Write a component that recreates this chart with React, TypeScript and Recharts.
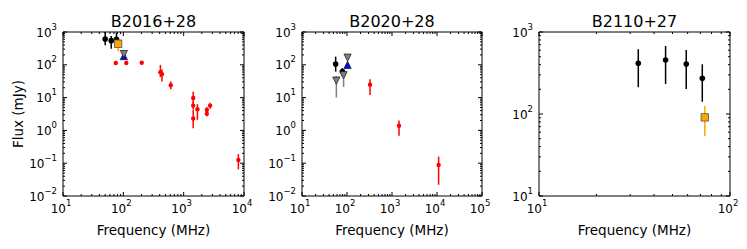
import React from "react";
import { ScatterChart, Scatter, XAxis, YAxis, ErrorBar, ReferenceArea } from "recharts";

const FONT = "'DejaVu Sans', sans-serif";

// rows: [frequency MHz, flux mJy, lower bound, upper bound]
const B2016_BLACK = [
  [50, 610, 394, 1000],
  [63, 545, 310, 755],
  [77, 600, 472, 950],
];
const B2016_ORANGE = [[82, 440, 258, 520]];
const B2016_BLUE = [[102, 184]];
const B2016_GRAY = [[102, 212]];
const B2016_RED = [
  [75, 114],
  [112, 114],
  [202, 116],
  [411, 59, 42, 99],
  [437, 52, 31, 72],
  [611, 24, 18, 31],
  [1440, 9.7, 6.5, 15],
  [1440, 5.7, 4.3, 7.5],
  [1440, 2.3, 1.16, 4.2],
  [1690, 4.4, 2.1, 6.3],
  [2420, 4.2, 3.5, 5.2],
  [2420, 3.2, 2.7, 3.8],
  [2740, 5.7, 4.6, 7.0],
  [8070, 0.125, 0.065, 0.19],
];

const B2020_BLACK = [
  [56, 106, 62, 177],
  [79, 62, 44, 80],
];
const B2020_GRAY = [
  [58, 33, 10, 45],
  [84, 48, 21, 60],
  [103, 165],
];
const B2020_BLUE = [[103, 99]];
const B2020_RED = [
  [325, 24.7, 12, 36],
  [1430, 1.39, 0.69, 2.0],
  [10860, 0.088, 0.022, 0.158],
];

const B2110_BLACK = [
  [33.1, 415, 212, 617],
  [46, 456, 232, 676],
  [59, 407, 202, 604],
  [71.6, 272, 141, 404],
];
const B2110_ORANGE = [[73.8, 91, 54, 125]];

const P1_X = [10, 100, 1000, 10000];
const P1_Y = [0.01, 0.1, 1, 10, 100, 1000];
const P2_X = [10, 100, 1000, 10000, 100000];
const P2_Y = [0.01, 0.1, 1, 10, 100, 1000];
const P3_X = [10, 100];
const P3_Y = [10, 100, 1000];

const PLOT_TOP = 32;
const PLOT_H = 164;
const CHART_H = 249;

function toPoints(rows: number[][]) {
  return rows.map(([f, s, lo, hi]) => ({
    f,
    s,
    err: [lo == null ? 0 : s - lo, hi == null ? 0 : hi - s],
  }));
}

function withMinors(decades: number[]) {
  const out: number[] = [];
  for (let i = 0; i < decades.length - 1; i++) {
    for (let k = 1; k <= 9; k++) out.push(+(k * decades[i]).toPrecision(6));
  }
  out.push(decades[decades.length - 1]);
  return out;
}

function isMajor(v: number) {
  const l = Math.log10(v);
  return Math.abs(l - Math.round(l)) < 1e-6;
}

function expLabel(v: number) {
  const e = Math.round(Math.log10(v));
  return e < 0 ? `\u2212${-e}` : `${e}`;
}

function makeXTick(plotH: number) {
  return (props: any) => {
    const { x, y, payload } = props;
    const v = payload.value;
    const major = isMajor(v);
    const len = major ? 4 : 2;
    return (
      <g>
        <line x1={x} x2={x} y1={y} y2={y - len} stroke="#000" strokeWidth={1} />
        <line x1={x} x2={x} y1={y - plotH} y2={y - plotH + len} stroke="#000" strokeWidth={1} />
        {major && (
          <text x={x - 2} y={y + 17} textAnchor="middle" fontSize={12} fontFamily={FONT} fill="#000">
            10
            <tspan fontSize={8.5} dy={-7}>
              {expLabel(v)}
            </tspan>
          </text>
        )}
      </g>
    );
  };
}

function makeYTick(plotW: number) {
  return (props: any) => {
    const { x, y, payload } = props;
    const v = payload.value;
    const major = isMajor(v);
    const len = major ? 4 : 2;
    return (
      <g>
        <line x1={x} x2={x + len} y1={y} y2={y} stroke="#000" strokeWidth={1} />
        <line x1={x + plotW} x2={x + plotW - len} y1={y} y2={y} stroke="#000" strokeWidth={1} />
        {major && (
          <text x={x - 6} y={y + 4.5} textAnchor="end" fontSize={12} fontFamily={FONT} fill="#000">
            10
            <tspan fontSize={8.5} dy={-7}>
              {expLabel(v)}
            </tspan>
          </text>
        )}
      </g>
    );
  };
}

type Kind = "dot" | "small" | "square" | "down" | "up";

function marker(kind: Kind, fill: string) {
  return (p: any) => {
    const { cx, cy } = p;
    if (cx == null || cy == null) return <g />;
    if (kind === "dot") return <circle cx={cx} cy={cy} r={2.8} fill={fill} />;
    if (kind === "small") return <circle cx={cx} cy={cy} r={2.2} fill={fill} />;
    if (kind === "square")
      return <rect x={cx - 3.7} y={cy - 3.7} width={7.4} height={7.4} fill={fill} stroke="#555" strokeWidth={0.8} />;
    const h = 3.6;
    const pts =
      kind === "down"
        ? `${cx - h},${cy - h} ${cx + h},${cy - h} ${cx},${cy + h}`
        : `${cx - h},${cy + h} ${cx + h},${cy + h} ${cx},${cy - h}`;
    return <polygon points={pts} fill={fill} stroke="#222" strokeWidth={0.8} />;
  };
}

interface SeriesDef {
  rows: number[][];
  kind: Kind;
  color: string;
  errColor: string;
}

interface PanelProps {
  left: number;
  width: number;
  plotLeft: number;
  plotRight: number;
  yAxisWidth: number;
  xDecades: number[];
  yDecades: number[];
  series: SeriesDef[];
}

function Panel({ left, width, plotLeft, plotRight, yAxisWidth, xDecades, yDecades, series }: PanelProps) {
  const plotW = plotRight - plotLeft;
  const xDom = [xDecades[0], xDecades[xDecades.length - 1]];
  const yDom = [yDecades[0], yDecades[yDecades.length - 1]];
  return (
    <div style={{ position: "absolute", left, top: 0 }}>
      <ScatterChart
        width={width}
        height={CHART_H}
        margin={{ top: PLOT_TOP, left: plotLeft - yAxisWidth, right: width - plotRight, bottom: CHART_H - PLOT_TOP - PLOT_H - 30 }}
      >
        <XAxis
          type="number"
          dataKey="f"
          scale="log"
          domain={xDom}
          allowDataOverflow
          ticks={withMinors(xDecades)}
          interval={0}
          tickSize={0}
          tickMargin={0}
          tickLine={false}
          axisLine={false}
          height={30}
          tick={makeXTick(PLOT_H)}
        />
        <YAxis
          type="number"
          dataKey="s"
          scale="log"
          domain={yDom}
          allowDataOverflow
          ticks={withMinors(yDecades)}
          interval={0}
          tickSize={0}
          tickMargin={0}
          tickLine={false}
          axisLine={false}
          width={yAxisWidth}
          tick={makeYTick(plotW)}
        />
        <ReferenceArea
          x1={xDom[0]}
          x2={xDom[1]}
          y1={yDom[0]}
          y2={yDom[1]}
          fill="none"
          fillOpacity={0}
          stroke="#000"
          strokeWidth={1}
          ifOverflow="visible"
        />
        {series.map((s, i) => (
          <Scatter key={i} data={toPoints(s.rows)} shape={marker(s.kind, s.color)} isAnimationActive={false}>
            <ErrorBar dataKey="err" direction="y" width={0} stroke={s.errColor} strokeWidth={1.5} />
          </Scatter>
        ))}
      </ScatterChart>
    </div>
  );
}

const TITLES = ["B2016+28", "B2020+28", "B2110+27"];
const X_LABEL = "Frequency (MHz)";
const Y_LABEL = "Flux (mJy)";

export default function App() {
  const panels: PanelProps[] = [
    {
      left: 0,
      width: 262,
      plotLeft: 63,
      plotRight: 244,
      yAxisWidth: 50,
      xDecades: P1_X,
      yDecades: P1_Y,
      series: [
        { rows: B2016_RED, kind: "small", color: "#ff0000", errColor: "#ff0000" },
        { rows: B2016_BLACK, kind: "dot", color: "#000", errColor: "#000" },
        { rows: B2016_ORANGE, kind: "square", color: "#ffa500", errColor: "#ffa500" },
        { rows: B2016_BLUE, kind: "up", color: "#0000ff", errColor: "#0000ff" },
        { rows: B2016_GRAY, kind: "down", color: "#808080", errColor: "#808080" },
      ],
    },
    {
      left: 250,
      width: 250,
      plotLeft: 52,
      plotRight: 232,
      yAxisWidth: 40,
      xDecades: P2_X,
      yDecades: P2_Y,
      series: [
        { rows: B2020_RED, kind: "small", color: "#ff0000", errColor: "#ff0000" },
        { rows: B2020_BLACK, kind: "dot", color: "#000", errColor: "#000" },
        { rows: B2020_BLUE, kind: "up", color: "#0000ff", errColor: "#0000ff" },
        { rows: B2020_GRAY, kind: "down", color: "#808080", errColor: "#808080" },
      ],
    },
    {
      left: 497,
      width: 250,
      plotLeft: 42,
      plotRight: 233,
      yAxisWidth: 32,
      xDecades: P3_X,
      yDecades: P3_Y,
      series: [
        { rows: B2110_BLACK, kind: "dot", color: "#000", errColor: "#000" },
        { rows: B2110_ORANGE, kind: "square", color: "#ffa500", errColor: "#ffa500" },
      ],
    },
  ];

  return (
    <div style={{ position: "absolute", left: 0, top: 0, width: 747, height: 249, background: "#fff", fontFamily: FONT }}>
      {panels.map((p, i) => (
        <Panel key={i} {...p} />
      ))}
      <svg width={747} height={249} style={{ position: "absolute", left: 0, top: 0, pointerEvents: "none" }}>
        {panels.map((p, i) => {
          const cx = p.left + (p.plotLeft + p.plotRight) / 2;
          return (
            <g key={i}>
              <text x={cx} y={27} textAnchor="middle" fontSize={16} fontFamily={FONT} fill="#000">
                {TITLES[i]}
              </text>
              <text x={cx} y={234.5} textAnchor="middle" fontSize={13.5} fontFamily={FONT} fill="#000">
                {X_LABEL}
              </text>
            </g>
          );
        })}
        <text x={23} y={114} textAnchor="middle" fontSize={13.5} fontFamily={FONT} fill="#000" transform="rotate(-90 23 114)">
          {Y_LABEL}
        </text>
      </svg>
    </div>
  );
}
